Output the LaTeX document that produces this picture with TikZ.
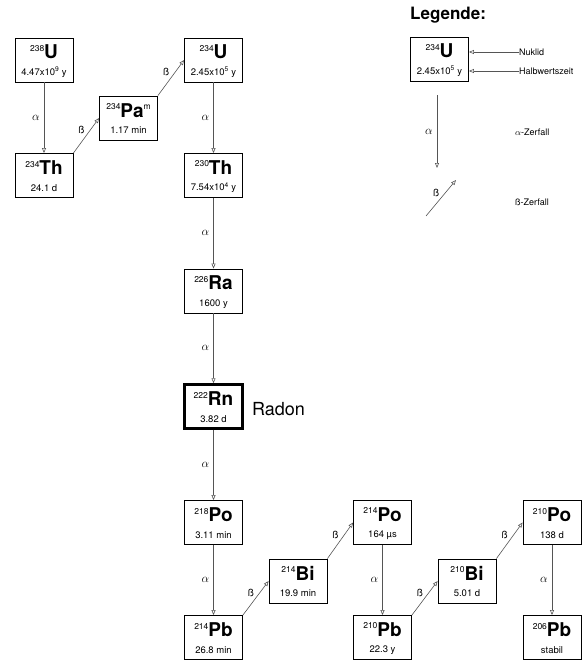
\documentclass[tikz,border=0pt]{standalone}
\usepackage{fontspec}
\setmainfont{TeX Gyre Heros}
\usetikzlibrary{arrows.meta}
\tikzset{>={Triangle[open, length = 5pt, width = 4pt]}}
\definecolor{mygray}{RGB}{85, 85, 85}
\newcommand{\hoch}[1]{\raisebox{7.5pt}{\fontsize{8.5}{8.5}\selectfont\mdseries #1}}
\newcommand{\nuk}[3]{\rule{0pt}{16.5pt}\hoch{#1}{\fontsize{19}{19}\selectfont\bfseries #2}\\#3\rule[-2pt]{0pt}{0pt}}

\begin{document}
\begin{tikzpicture}[
    x = 1pt, y = -1pt,
    kasten/.style = {draw, line width = 0.8pt, minimum width = 58, minimum height = 44, inner sep = 0pt, align = center, font = \fontsize{9.5}{16.5}\selectfont},
    za/.style = {draw = mygray, line width = 0.6pt, ->},
    lab/.style = {font = \fontsize{12}{14}\selectfont, inner sep = 1pt},
    labb/.style = {font = \fontsize{10}{12}\selectfont, inner sep = 1.5pt, anchor = south east},
    txt/.style = {anchor = west, inner sep = 0pt, font = \fontsize{9}{11}\selectfont},
]
\useasboundingbox (0,0) rectangle (583,661);

\node[kasten] (U238) at (44, 60) {\nuk{238}{U}{4.47x10\textsuperscript{9} y}};
\node[kasten] (Th234) at (44, 175.5) {\nuk{234}{Th}{24.1 d}};
\node[kasten] (Pa234) at (128.5, 118) {\nuk{234}{Pa\hoch{m}}{1.17 min}};
\node[kasten] (U234) at (213.5, 60) {\nuk{234}{U}{2.45x10\textsuperscript{5} y}};
\node[kasten] (Th230) at (213.5, 175.5) {\nuk{230}{Th}{7.54x10\textsuperscript{4} y}};
\node[kasten] (Ra226) at (213.5, 291) {\nuk{226}{Ra}{1600 y}};
\node[kasten, line width = 2.5pt] (Rn222) at (213.5, 406.5) {\nuk{222}{Rn}{3.82 d}};
\node[kasten] (Po218) at (213.5, 522.5) {\nuk{218}{Po}{3.11 min}};
\node[kasten] (Pb214) at (213.5, 637.5) {\nuk{214}{Pb}{26.8 min}};
\node[kasten] (Bi214) at (298, 581) {\nuk{214}{Bi}{19.9 min}};
\node[kasten] (Po214) at (382.5, 522.5) {\nuk{214}{Po}{164 µs}};
\node[kasten] (Pb210) at (382.5, 637.5) {\nuk{210}{Pb}{22.3 y}};
\node[kasten] (Bi210) at (467, 581) {\nuk{210}{Bi}{5.01 d}};
\node[kasten] (Po210) at (552, 522.5) {\nuk{210}{Po}{138 d}};
\node[kasten] (Pb206) at (552, 637.5) {\nuk{206}{Pb}{stabil}};
\node[txt, font = \fontsize{18}{18}\selectfont] (radon) at (252, 409) {Radon};

\draw[za] (U238) -- node[lab, anchor = east, xshift = -3] {$\alpha$} (Th234);
\draw[za] (Th234.north east) -- node[labb] {ß} (Pa234.west);
\draw[za] (Pa234.north east) -- node[labb] {ß} (U234.west);
\draw[za] (U234) -- node[lab, anchor = east, xshift = -3] {$\alpha$} (Th230);
\draw[za] (Th230) -- node[lab, anchor = east, xshift = -3] {$\alpha$} (Ra226);
\draw[za] (Ra226) -- node[lab, anchor = east, xshift = -3] {$\alpha$} (Rn222);
\draw[za] (Rn222) -- node[lab, anchor = east, xshift = -3] {$\alpha$} (Po218);
\draw[za] (Po218) -- node[lab, anchor = east, xshift = -3] {$\alpha$} (Pb214);
\draw[za] (Pb214.north east) -- node[labb] {ß} (Bi214.west);
\draw[za] (Bi214.north east) -- node[labb] {ß} (Po214.west);
\draw[za] (Po214) -- node[lab, anchor = east, xshift = -3] {$\alpha$} (Pb210);
\draw[za] (Pb210.north east) -- node[labb] {ß} (Bi210.west);
\draw[za] (Bi210.north east) -- node[labb] {ß} (Po210.west);
\draw[za] (Po210) -- node[lab, anchor = east, xshift = -3] {$\alpha$} (Pb206);

\node[txt, font = \fontsize{17}{17}\selectfont\bfseries] (legende) at (410, 15) {Legende:};
\node[kasten] (legU) at (439.5, 59) {\nuk{234}{U}{2.45x10\textsuperscript{5} y}};
\node[txt] (nuklid) at (519, 52) {Nuklid};
\node[txt] (hwz) at (519, 71) {Halbwertszeit};
\draw[za] (nuklid.west) -- (legU.east |- nuklid.west);
\draw[za] (hwz.west) -- (legU.east |- hwz.west);
\coordinate (a1) at (437, 95);
\coordinate (a2) at (437, 168);
\draw[za] (a1) -- node[lab, anchor = east, xshift = -3] {$\alpha$} (a2);
\node[txt] (azerf) at (515, 132) {$\alpha$-Zerfall};
\coordinate (b1) at (426, 216);
\coordinate (b2) at (456, 180);
\draw[za] (b1) -- node[labb] {ß} (b2);
\node[txt] (bzerf) at (515, 202) {ß-Zerfall};
\end{tikzpicture}
\end{document}
